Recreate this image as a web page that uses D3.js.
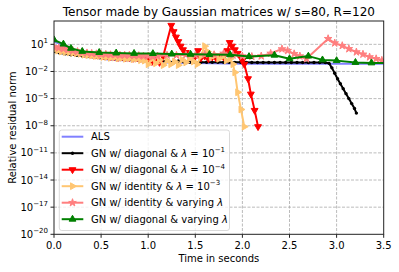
<!DOCTYPE html>
<html>
<head>
<meta charset="utf-8">
<script src="https://cdn.jsdelivr.net/npm/d3@7"></script>
<style>
  body { margin: 0; background: #fff; }
  svg { display: block; font-family: "DejaVu Sans", sans-serif; }
</style>
</head>
<body>
<script>
// ---- data: time in seconds, log10 of the relative residual norm ----
const xTicks = [0, 0.5, 1.0, 1.5, 2.0, 2.5, 3.0, 3.5];
const yTickExps = [1, -2, -5, -8, -11, -14, -17, -20];

const alsT = [0, 0.05, 0.1, 0.15, 0.2, 0.3, 0.4, 0.5, 0.6, 0.8, 1.0, 1.2, 1.5, 2.0, 2.5, 2.9, 3.2, 3.5];
const alsE = [1.3, 1.1, 0.8, 0.55, 0.3, 0.0, -0.3, -0.6, -0.7, -0.8, -0.9, -1.0, -1.05, -1.15, -1.15, -1.15, -1.15, -1.15];

const blackT = [0, 0.06, 0.12, 0.18, 0.24, 0.3, 0.36, 0.42, 0.48, 0.54, 0.6, 0.66, 0.72, 0.78, 0.84, 0.9,
  0.96, 1.02, 1.08, 1.14, 1.2, 1.26, 1.32, 1.38, 1.44, 1.5, 1.56, 1.62, 1.68, 1.74, 1.8, 1.86, 1.92, 1.98,
  2.04, 2.1, 2.16, 2.22, 2.28, 2.34, 2.4, 2.46, 2.52, 2.58, 2.64, 2.7, 2.76, 2.82, 2.88, 2.92, 2.95, 2.98,
  3.01, 3.04, 3.07, 3.1, 3.13, 3.16, 3.19, 3.21];
const blackE = [0.2, 0.05, -0.05, -0.15, -0.2, -0.3, -0.35, -0.4, -0.45, -0.5, -0.55, -0.6, -0.62, -0.65,
  -0.7, -0.72, -0.75, -0.8, -0.78, -0.95, -0.75, -1.0, -0.85, -0.95, -0.97, -0.98, -0.98, -0.98, -0.99,
  -0.99, -0.99, -0.99, -0.99, -0.99, -0.99, -1.0, -1.0, -1.0, -1.0, -1.0, -1.0, -1.0, -1.0, -1.0, -1.0,
  -1.0, -1.0, -1.0, -1.02, -1.1, -1.6, -2.2, -2.8, -3.35, -3.9, -4.45, -5.0, -5.55, -6.1, -6.6];

const redT = [0, 0.04, 0.08, 0.12, 0.16, 0.2, 0.24, 0.28, 0.32, 0.36, 0.4, 0.44, 0.48, 0.52, 0.56, 0.6,
  0.64, 0.68, 0.72, 0.76, 0.8, 0.84, 0.88, 0.92, 0.96, 1.0, 1.04, 1.08, 1.12, 1.16, 1.245, 1.27, 1.295,
  1.32, 1.345, 1.37, 1.4, 1.43, 1.46, 1.5, 1.53, 1.56, 1.6, 1.64, 1.68, 1.72, 1.76, 1.8, 1.84, 1.865,
  1.89, 1.92, 1.95, 1.98, 2.0, 2.02, 2.06, 2.09, 2.13, 2.166];
const redE = [0.6, 0.5, 0.45, 0.35, 0.3, 0.2, 0.15, 0.1, 0.0, -0.05, -0.1, -0.2, -0.2, -0.3, -0.3, -0.4,
  -0.35, -0.45, -0.4, -0.5, -0.45, -0.55, -0.5, -0.6, -0.55, -0.7, -0.9, -0.6, -1.0, -0.3, 3.1, 2.4, 1.8,
  1.3, 0.8, 0.4, 0.1, -0.2, -0.4, -0.3, 0.3, -0.5, -0.3, -0.6, -0.4, -0.5, -0.3, -0.4, 0.3, 1.2,
  0.8, 0.4, 0.0, -0.4, -0.8, -1.2, -2.8, -4.5, -6.3, -8.1];

const orangeT = [0, 0.04, 0.08, 0.12, 0.16, 0.2, 0.24, 0.28, 0.32, 0.36, 0.4, 0.44, 0.48, 0.52, 0.56, 0.6,
  0.64, 0.68, 0.72, 0.76, 0.8, 0.84, 0.88, 0.92, 0.96, 1.0, 1.04, 1.08, 1.12, 1.16, 1.2, 1.24, 1.28, 1.32,
  1.36, 1.4, 1.44, 1.48, 1.52, 1.56, 1.6, 1.63, 1.67, 1.71, 1.75, 1.79, 1.83, 1.87, 1.9, 1.92, 1.95,
  1.985, 2.02];
const orangeE = [0.4, 0.3, 0.2, 0.15, 0.1, 0.05, 0.0, -0.05, -0.15, -0.2, -0.25, -0.3, -0.3, -0.4, -0.4,
  -0.5, -0.45, -0.55, -0.5, -0.6, -0.55, -0.65, -0.6, -0.75, -0.8, -1.2, -0.6, -1.1, -0.7, -1.3, -0.8,
  -1.2, -0.9, -1.3, -0.7, -1.0, -0.5, -0.9, -1.2, -0.3, 0.8, 0.2, -0.4, -0.2, -0.6, -0.3, -0.8, -0.6,
  -1.2, -2.1, -4.3, -6.2, -8.1];

const pinkT = [0, 0.05, 0.1, 0.15, 0.2, 0.25, 0.3, 0.35, 0.4, 0.45, 0.5, 0.55, 0.6, 0.65, 0.7, 0.75, 0.8,
  0.85, 0.9, 0.95, 1.0, 1.05, 1.1, 1.2, 1.3, 1.4, 1.5, 1.6, 1.7, 1.8, 1.9, 2.0, 2.1, 2.2, 2.3, 2.42, 2.48,
  2.55, 2.61, 2.68, 2.91, 2.98, 3.06, 3.13, 3.21, 3.28, 3.35, 3.42, 3.48, 3.55];
const pinkE = [0.7, 0.6, 0.5, 0.4, 0.3, 0.2, 0.1, 0.05, 0.0, -0.05, -0.1, -0.1, -0.15, -0.15, -0.2, -0.2,
  -0.2, -0.25, -0.25, -0.3, -0.3, -0.35, -0.3, -0.2, -0.2, -0.15, -0.2, -0.1, -0.15, 0.0, -0.2, -0.3,
  -0.35, -0.3, 0.0, 0.48, 0.3, -0.05, -0.3, -0.6, 1.62, 1.14, 0.85, 0.5, 0.15, -0.1, -0.4, -0.6, -0.77, -0.9];

const greenT = [0, 0.1, 0.18, 0.3, 0.48, 0.66, 0.85, 1.05, 1.25, 1.45, 1.65, 1.87, 2.07, 2.34, 2.5, 2.7,
  2.85, 3.0, 3.2, 3.37, 3.55];
const greenE = [1.5, 1.03, 0.56, 0.22, 0.1, 0.04, 0.0, -0.02, -0.07, -0.1, -0.12, -0.15, -0.35, -0.2,
  -0.6, -0.3, -0.72, -0.8, -1.0, -1.05, -1.05];

const labels = [
  "ALS",
  "GN w/ diagonal & λ = 10^−1",
  "GN w/ diagonal & λ = 10^−4",
  "GN w/ identity & λ = 10^−3",
  "GN w/ identity & varying λ",
  "GN w/ diagonal & varying λ"
];

const series = [
  { t: alsT, e: alsE, color: "#8080ff", marker: null },
  { t: blackT, e: blackE, color: "#000000", marker: "dot" },
  { t: redT, e: redE, color: "#ff0000", marker: "down" },
  { t: orangeT, e: orangeE, color: "#ffc672", marker: "right" },
  { t: pinkT, e: pinkE, color: "#ff7f7f", marker: "star" },
  { t: greenT, e: greenE, color: "#008000", marker: "up" }
];

// ---- layout ----
const width = 399, height = 272;
const m = { left: 54, right: 383.7, top: 21, bottom: 234.3 };

const x = d3.scaleLinear().domain([0, 3.5]).range([m.left, m.right]);
const y = d3.scaleLog().domain([1e-20, Math.pow(10, 3.58)]).range([m.bottom, m.top]);

const svg = d3.select("body").append("svg")
  .attr("width", width)
  .attr("height", height);

svg.append("defs").append("clipPath").attr("id", "plot")
  .append("rect")
  .attr("x", m.left).attr("y", m.top)
  .attr("width", m.right - m.left).attr("height", m.bottom - m.top);

// text with italic λ and a trailing superscript
function richText(sel, str, supSize, supDy) {
  str.split(/(λ|\^\S+)/).filter(s => s).forEach(s => {
    if (s === "λ") sel.append("tspan").attr("font-style", "italic").text(s);
    else if (s[0] === "^") sel.append("tspan").attr("font-size", supSize).attr("dy", supDy).text(s.slice(1));
    else sel.append("tspan").text(s);
  });
}

// grid
const grid = svg.append("g")
  .attr("stroke", "#aaaaaa")
  .attr("stroke-width", 0.8)
  .attr("stroke-dasharray", "3,1.5");
grid.selectAll(".gx").data(xTicks.slice(1, -1)).join("line")
  .attr("x1", d => x(d)).attr("x2", d => x(d))
  .attr("y1", m.top).attr("y2", m.bottom);
grid.selectAll(".gy").data(yTickExps.slice(0, -1)).join("line")
  .attr("x1", m.left).attr("x2", m.right)
  .attr("y1", d => y(Math.pow(10, d))).attr("y2", d => y(Math.pow(10, d)));

// series
const plot = svg.append("g").attr("clip-path", "url(#plot)");
const line = d3.line().x(d => x(d[0])).y(d => y(Math.pow(10, d[1])));

function drawMarker(g, type, color, px, py) {
  if (type === "dot") {
    g.append("circle").attr("cx", px).attr("cy", py).attr("r", 1.7).attr("fill", color);
    return;
  }
  const sym = type === "star" ? d3.symbolStar : d3.symbolTriangle;
  const rot = type === "down" ? 180 : type === "right" ? 90 : 0;
  const size = type === "star" ? 18 : 20;
  g.append("path")
    .attr("d", d3.symbol(sym, size)())
    .attr("transform", `translate(${px},${py}) rotate(${rot})`)
    .attr("fill", color)
    .attr("stroke", color)
    .attr("stroke-width", 1);
}

series.forEach(s => {
  const pts = s.t.map((t, i) => [t, s.e[i]]);
  const g = plot.append("g");
  g.append("path")
    .attr("d", line(pts))
    .attr("fill", "none")
    .attr("stroke", s.color)
    .attr("stroke-width", 2)
    .attr("stroke-linejoin", "round");
  if (s.marker) pts.forEach(p => drawMarker(g, s.marker, s.color, x(p[0]), y(Math.pow(10, p[1]))));
});

// frame
svg.append("rect")
  .attr("x", m.left).attr("y", m.top)
  .attr("width", m.right - m.left).attr("height", m.bottom - m.top)
  .attr("fill", "none").attr("stroke", "#222").attr("stroke-width", 1);

// x ticks
const xt = svg.append("g");
xt.selectAll("line").data(xTicks).join("line")
  .attr("x1", d => x(d)).attr("x2", d => x(d))
  .attr("y1", m.bottom).attr("y2", m.bottom + 3.5)
  .attr("stroke", "#222");
xt.selectAll("text").data(xTicks).join("text")
  .attr("x", d => x(d)).attr("y", m.bottom + 15)
  .attr("text-anchor", "middle")
  .attr("font-size", 10)
  .text(d => d.toFixed(1));

// y ticks
const yt = svg.append("g");
yt.selectAll("line").data(yTickExps).join("line")
  .attr("x1", m.left - 3.5).attr("x2", m.left)
  .attr("y1", d => y(Math.pow(10, d))).attr("y2", d => y(Math.pow(10, d)))
  .attr("stroke", "#222");
yt.selectAll("text").data(yTickExps).join("text")
  .attr("x", m.left - 6)
  .attr("y", d => y(Math.pow(10, d)) + 3.6)
  .attr("text-anchor", "end")
  .attr("font-size", 10)
  .each(function (d) {
    richText(d3.select(this), "10^" + (d < 0 ? "−" + (-d) : d), 7, -4.5);
  });

// titles
svg.append("text")
  .attr("x", (m.left + m.right) / 2).attr("y", 16)
  .attr("text-anchor", "middle").attr("font-size", 12)
  .text("Tensor made by Gaussian matrices w/ s=80, R=120");
svg.append("text")
  .attr("x", (m.left + m.right) / 2).attr("y", 262)
  .attr("text-anchor", "middle").attr("font-size", 10)
  .text("Time in seconds");
svg.append("text")
  .attr("transform", `translate(15.5,${(m.top + m.bottom) / 2}) rotate(-90)`)
  .attr("text-anchor", "middle").attr("font-size", 10)
  .text("Relative residual norm");

// legend
const lg = svg.append("g");
lg.append("rect")
  .attr("x", 59.3).attr("y", 130).attr("width", 170.2).attr("height", 100.5)
  .attr("rx", 2.5)
  .attr("fill", "#fff").attr("fill-opacity", 0.8)
  .attr("stroke", "#d0d0d0").attr("stroke-width", 0.8);
series.forEach((s, i) => {
  const cy = 136.7 + i * 16.5;
  lg.append("line")
    .attr("x1", 61.7).attr("x2", 83.3).attr("y1", cy).attr("y2", cy)
    .attr("stroke", s.color).attr("stroke-width", 2);
  if (s.marker) drawMarker(lg, s.marker, s.color, 72.5, cy);
  const tx = lg.append("text")
    .attr("x", 91).attr("y", cy + 3.6)
    .attr("font-size", 10);
  richText(tx, labels[i], 7, -4.5);
});
</script>
</body>
</html>
